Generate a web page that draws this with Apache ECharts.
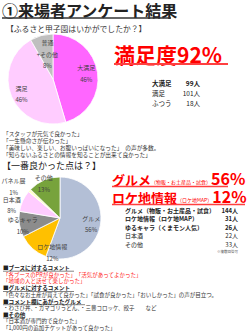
<!DOCTYPE html>
<html><head><meta charset="utf-8">
<script src="https://cdn.jsdelivr.net/npm/echarts@6/dist/echarts.min.js"></script>
<style>html,body{margin:0;padding:0;background:#fff}#c{width:250px;height:333px}</style>
</head><body><div id="c"></div>
<script>
// ---- data ----
const titleText = '①来場者アンケート結果';
const q1Text = '【ふるさと甲子園はいかがでしたか？】';
const satNames = ['大満足', '満足', '普通\n+その他'];
const satValues = [99, 101, 18];
const satTableNames = ['大満足', '満足', 'ふつう'];
const satTableValues = [99, 101, 18];
const satHeadline = '満足度92%';
const satComments = [
  '「スタッフが元気で良かった」',
  '「一生懸命さが伝わった」',
  '「美味しい、楽しい、お腹いっぱいになった」　の声が多数。',
  '「知らないふるさとの情報を知ることが出来て良かった」'
];
const q2Text = '【一番良かった点は？】';
const bestNames = ['グルメ', 'ロケ地情報', 'ゆるキャラ', '日本酒', 'パネル展', 'その他'];
const bestValues = [144, 31, 26, 22, 3, 33];
const bestHeadMain = ['グルメ', 'ロケ地情報'];
const bestHeadSub = ['（物販・お土産品・試食）', '（ロケ地MAP）'];
const bestHeadPct = ['56%', '12%'];
const bestTableNames = ['グルメ（物販・お土産品・試食）', 'ロケ地情報（ロケ地MAP）', 'ゆるキャラ（くまモン人気）', '日本酒', 'その他'];
const bestTableValues = [144, 31, 26, 22, 33];
const multiNote = '※複数回答可';
const boothHead = '■ブースに対するコメント';
const boothComments = ['「各ブースのPRが良かった」　「活気があってよかった」', '「地域の人と話せて楽しかった」'];
const gourmetHead = '■グルメに対するコメント';
const gourmetComments = ['「色々なお土産が買えて良かった」「試食が良かった」「おいしかった」の声が目立つ。'];
const listedHead = '■コメント欄にあがったグルメ';
const listedComments = ['・わさび丼、・ガマゴリうどん、・三豊コロッケ、餃子　　など'];
const otherHead = '■その他';
const otherComments = ['「日本酒が専門的で良かった」', '「1,000円の追加チケットがあって良かった」'];

// ---- styles ----
const FF = '"Noto Sans CJK JP","Noto Sans",sans-serif';
const satColors = ['#FF66FF', '#FFCCFF', '#BFBFBF'];
const bestColors = ['#B3BFD6', '#FFC000', '#8C8C8C', '#FFCCFF', '#FFFFCC', '#77A33C'];
const satLabelShift = [[8, -2], [-8, 5], [1, 0]];
const bestLabelShift = [[8, 2], [8, 17], [-14, 4], [-27, -3], [-29, -16], [-7, -13]];

const g = [];
function txt(text, x, y, font, fill, align, lh) {
  const st = {text: text, font: font, fill: fill || '#333', align: align || 'left', verticalAlign: 'middle'};
  if (lh) st.lineHeight = lh;
  g.push({type: 'text', x: x, y: y, style: st});
}
function hline(x1, x2, y, w, color) {
  g.push({type: 'line', shape: {x1: x1, y1: y, x2: x2, y2: y}, style: {stroke: color, lineWidth: w}});
}

txt(titleText, 2, 10, 'bold 16px ' + FF, '#222', 'left', 17);
hline(2, 171, 18, 1.6, '#333');
txt(q1Text, 6, 28, '7.8px ' + FF, '#333');

txt(satHeadline, 114, 54, 'bold 21px ' + FF, '#FF0000');
hline(114, 228, 64, 2, '#FF4040');
satTableNames.forEach((n, i) => {
  const f = (i === 0 ? 'bold ' : '') + '6.5px ' + FF;
  txt(n, 152, 83 + i * 10, f, '#222');
  txt(satTableValues[i] + '人', 200, 83 + i * 10, f, '#222', 'right');
});
satComments.forEach((c, i) => txt(c, 3, 133 + i * 7, '5.7px ' + FF, '#333', 'left', 6.6));

txt(q2Text, 2, 165, '9px ' + FF, '#222');
bestHeadMain.forEach((m, i) => {
  g.push({type: 'text', x: 112, y: 178 + i * 18, style: {
    text: '{a|' + m + '}{b|' + bestHeadSub[i] + '}{c|' + bestHeadPct[i] + '}',
    verticalAlign: 'middle',
    rich: {
      a: {font: 'bold 13px ' + FF, fill: '#FF0000', verticalAlign: 'bottom', lineHeight: 15},
      b: {font: '5px ' + FF, fill: '#FF0000', verticalAlign: 'bottom', lineHeight: 6, padding: [0, 0, 1, 0]},
      c: {font: 'bold 16px ' + FF, fill: '#FF0000', verticalAlign: 'bottom', lineHeight: 15}
    }
  }});
});
hline(112, 228, 186.5, 1.5, '#FF4040');
hline(112, 245, 204.5, 1.5, '#FF4040');
bestTableNames.forEach((n, i) => {
  const f = (i < 3 ? 'bold ' : '') + '6px ' + FF;
  txt(n, 125, 210 + i * 8.6, f, '#222', 'left', 8);
  txt(bestTableValues[i] + '人', 238, 210 + i * 8.6, f, '#222', 'right', 8);
});
txt(multiNote, 238, 251.5, '3.5px ' + FF, '#555', 'right');

let y = 268;
const step = 6.6;
function head(h) { txt(h, 3, y, 'bold 5.6px ' + FF, '#222', 'left', step - 0.2); y += step; }
function lines(arr, color) { arr.forEach(c => { txt(c, 3, y, '5.5px ' + FF, color, 'left', step - 0.2); y += step; }); }
head(boothHead); hline(3, 74, 271.2, 0.6, '#333');
lines(boothComments, '#FF2020');
y += 0.5;
const gy = y; head(gourmetHead); hline(3, 74, gy + 3.2, 0.6, '#333');
lines(gourmetComments, '#333');
const ly = y; head(listedHead); hline(3, 85, ly + 3.2, 0.6, '#333');
lines(listedComments, '#333');
const oy = y; head(otherHead); hline(3, 25, oy + 3.2, 0.6, '#333');
lines(otherComments, '#333');

function pieLabelLayout(shifts) {
  return function (p) { const s = shifts[p.dataIndex] || [0, 0]; return {dx: s[0], dy: s[1]}; };
}

const chart = echarts.init(document.getElementById('c'), null, {renderer: 'svg'});
chart.setOption({
  animation: false,
  series: [
    {
      type: 'pie', center: [53, 79], radius: 45, startAngle: 90, clockwise: true,
      percentPrecision: 0,
      data: satNames.map((n, i) => ({name: n, value: satValues[i], itemStyle: {color: satColors[i]}})),
      itemStyle: {borderColor: '#fff', borderWidth: 0.8},
      label: {show: true, position: 'inside', formatter: '{b}\n{d}%', fontSize: 6, lineHeight: 11.5, color: '#404040', fontFamily: FF},
      labelLine: {show: false},
      labelLayout: pieLabelLayout(satLabelShift),
      emphasis: {disabled: true}
    },
    {
      type: 'pie', center: [60, 218], radius: 41, startAngle: 90, clockwise: true,
      percentPrecision: 0,
      data: bestNames.map((n, i) => ({name: n, value: bestValues[i], itemStyle: {color: bestColors[i]}})),
      itemStyle: {borderColor: '#fff', borderWidth: 0.8},
      label: {show: true, position: 'inside', formatter: '{b}\n{d}%', fontSize: 6, lineHeight: 11.5, color: '#404040', fontFamily: FF},
      labelLine: {show: false},
      labelLayout: pieLabelLayout(bestLabelShift),
      emphasis: {disabled: true}
    }
  ],
  graphic: g
});
</script></body></html>
